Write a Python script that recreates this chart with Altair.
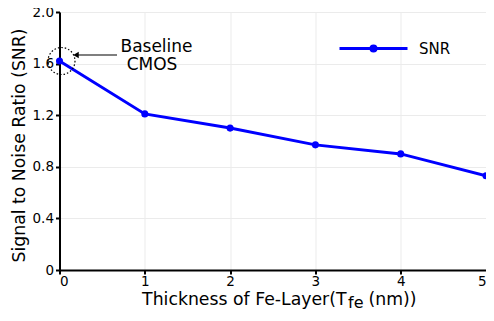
import altair as alt
import pandas as pd

thickness = [0, 1, 2, 3, 4, 5]
snr = [1.62, 1.21, 1.10, 0.97, 0.90, 0.73]
series = ["SNR"] * 6
y_ticks = [0, 0.4, 0.8, 1.2, 1.6, 2.0]
x_ticks = [0, 1, 2, 3, 4, 5]

df = pd.DataFrame({"t": thickness, "snr": snr, "series": series})
FONT = "DejaVu Sans"
BLUE = "#0000ff"
W, H = 426.5, 258

sym = "M-1,0L1,0M0.074,0A0.074,0.074,0,1,1,-0.074,0A0.074,0.074,0,1,1,0.074,0Z"

xenc = alt.X("t:Q", scale=alt.Scale(domain=[0, 5], nice=False),
             axis=alt.Axis(values=x_ticks, title=None, format="d", labelPadding=0))
yenc = alt.Y("snr:Q", scale=alt.Scale(domain=[0, 2], nice=False),
             axis=alt.Axis(values=y_ticks, title="Signal to Noise Ratio (SNR)",
                           labelExpr="datum.value == 0 ? '0' : format(datum.value, '.1f')",
                           titleX=-40.5, titleY=133, titleAngle=-90, labelPadding=2,
                           titleAlign="center", titleBaseline="middle"))

base = alt.Chart(df).encode(
    x=xenc, y=yenc,
    color=alt.Color("series:N", scale=alt.Scale(range=[BLUE]),
                    legend=alt.Legend(title=None, orient="none", legendX=278.5, legendY=1,
                                      symbolType=sym, symbolSize=4624,
                                      symbolStrokeWidth=3, symbolFillColor=BLUE,
                                      symbolStrokeColor=BLUE, symbolOpacity=1,
                                      labelFontSize=15, labelFont=FONT, labelColor="black",
                                      labelOffset=10, padding=0)),
)
line = base.mark_line(strokeWidth=3)
pts = base.mark_point(filled=True, size=50, opacity=1)

circ = alt.Chart(df.head(1)).mark_point(shape="circle", size=729, filled=False,
                                        stroke="black", strokeDash=[1.5, 2],
                                        strokeWidth=1.2, opacity=1).encode(
    x=alt.X("t:Q"), y=alt.Y("snr:Q"), xOffset=alt.value(2))

one = alt.Data(values=[{}])
arrow = alt.Chart(one).mark_rule(color="black", strokeWidth=1.2).encode(
    x=alt.value(16), x2=alt.value(57.5), y=alt.value(43))
head = alt.Chart(one).mark_point(shape="triangle-left", filled=True, color="black",
                                 size=40, opacity=1).encode(
    x=alt.value(16.5), y=alt.value(43))

def txt(s, x, y, size=17, align="center"):
    return alt.Chart(one).mark_text(text=s, font=FONT, fontSize=size, align=align,
                                    baseline="middle", color="black").encode(
        x=alt.value(x), y=alt.value(y))

t1 = txt("Baseline", 97, 35)
t2 = txt("CMOS", 92.5, 52.5)
xt1 = txt("Thickness of Fe-Layer(T", 287, 288, size=17.3, align="right")
xt2 = txt("fe", 288.5, 290.5, size=16, align="left")
xt3 = txt("(nm))", 309, 288, size=17.3, align="left")

chart = alt.layer(line, pts, circ, arrow, head, t1, t2, xt1, xt2, xt3).properties(
    width=W, height=H,
    autosize=alt.AutoSizeParams(type="none"),
    padding={"left": 51.5, "top": 4, "right": 0, "bottom": 40},
).configure_view(stroke=None).configure_axis(
    labelFont=FONT, labelFontSize=13.5, labelColor="black",
    titleFont=FONT, titleFontSize=17.3, titleColor="black", titleFontWeight="normal",
    domainColor="black", domainWidth=2, tickColor="black", tickWidth=2, tickSize=4,
    gridColor="#ebebeb", gridWidth=1,
)

chart.save("out.html", embed_options={"renderer": "svg", "actions": False})
